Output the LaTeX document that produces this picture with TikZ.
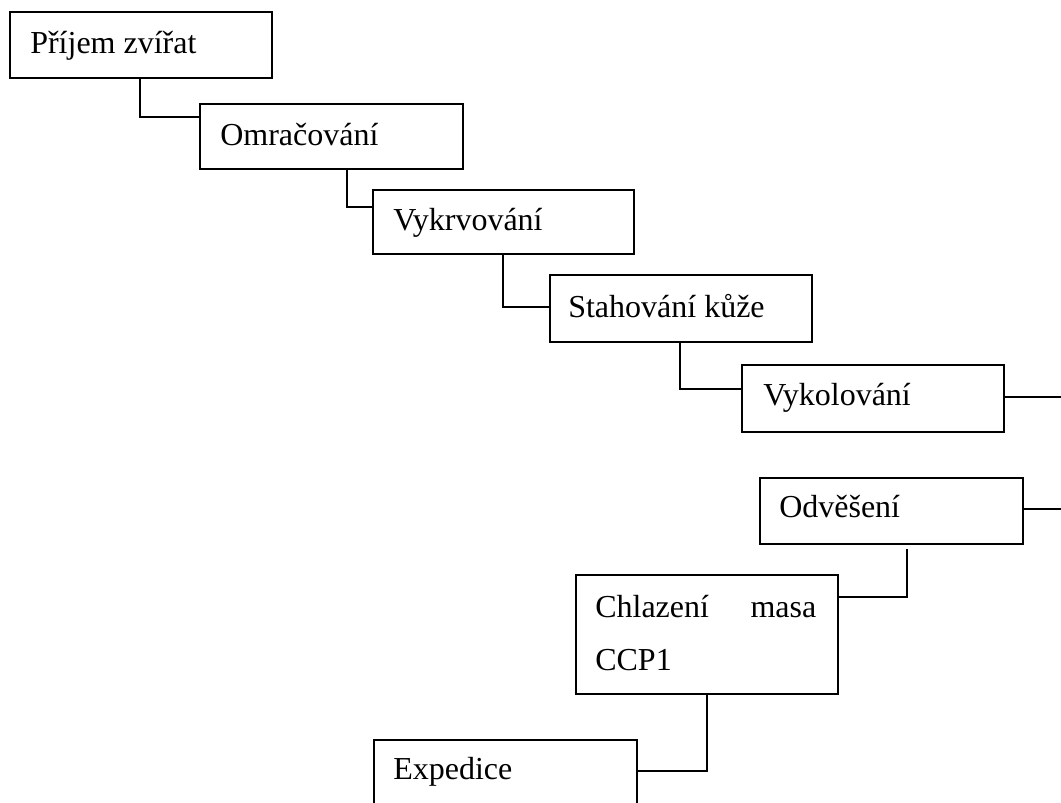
\documentclass[tikz,border=0pt]{standalone}
\usepackage{fontspec}
\setmainfont{Liberation Serif}
\usetikzlibrary{calc}
\newdimen\upx
\upx=0.75pt
\begin{document}
\begin{tikzpicture}[x=0.75pt,y=-0.75pt,
  box/.style={draw,line width=2\upx,rectangle,inner sep=0pt,anchor=north west},
  txt/.style={inner sep=0pt,anchor=base west,font=\fontsize{24}{39.75}\selectfont},
  conn/.style={draw,line width=2\upx}]
\clip (0,0) rectangle (1061,803);
\fill[white] (0,0) rectangle (1061,803);
% boxes
\node[box,minimum width=262\upx,minimum height=66\upx] (b1) at (9,11) {};
\node[box,minimum width=263\upx,minimum height=65\upx] (b2) at (199,103) {};
\node[box,minimum width=261\upx,minimum height=64\upx] (b3) at (372,189) {};
\node[box,minimum width=262\upx,minimum height=67\upx] (b4) at (549,274) {};
\node[box,minimum width=262\upx,minimum height=67\upx] (b5) at (741,364) {};
\node[box,minimum width=263\upx,minimum height=66\upx] (b6) at (759,477) {};
\node[box,minimum width=262\upx,minimum height=119\upx] (b7) at (575,574) {};
\node[box,minimum width=263\upx,minimum height=90\upx] (b8) at (373,739) {};
% texts
\node[txt] (t1) at ($(b1.north west)+(21,42)$) {Příjem zvířat};
\node[txt] (t2) at ($(b2.north west)+(21,42)$) {Omračování};
\node[txt] (t3) at ($(b3.north west)+(21,41)$) {Vykrvování};
\node[txt] (t4) at ($(b4.north west)+(19,43)$) {Stahování kůže};
\node[txt] (t5) at ($(b5.north west)+(22,41)$) {Vykolování};
\node[txt] (t6) at ($(b6.north west)+(20,40)$) {Odvěšení};
\node[txt,text width=221\upx,align=justify] (t7) at ($(b7.north west)+(20,43)$) {Chlazení masa CCP1};
\node[txt] (t8) at ($(b8.north west)+(20,40)$) {Expedice};
% free ends
\coordinate (e5) at (1061,397);
\coordinate (e6) at (1061,509);
% connectors
\draw[conn] ($(b1.south west)+(131,0)$) |- ($(b2.north west)+(0,14)$);
\draw[conn] ($(b2.south west)+(148,0)$) |- ($(b3.north west)+(0,18)$);
\draw[conn] ($(b3.south west)+(131,0)$) |- ($(b4.north west)+(0,33)$);
\draw[conn] ($(b4.south west)+(131,0)$) |- ($(b5.north west)+(0,25)$);
\draw[conn] (b5.east |- e5) -- (e5);
\draw[conn] (b6.east |- e6) -- (e6);
\draw[conn] ($(b6.south west)+(148,4)$) |- ($(b7.north east)+(0,23)$);
\draw[conn] ($(b7.south west)+(132,0)$) |- ($(b8.north east)+(0,32)$);
\end{tikzpicture}
\end{document}
